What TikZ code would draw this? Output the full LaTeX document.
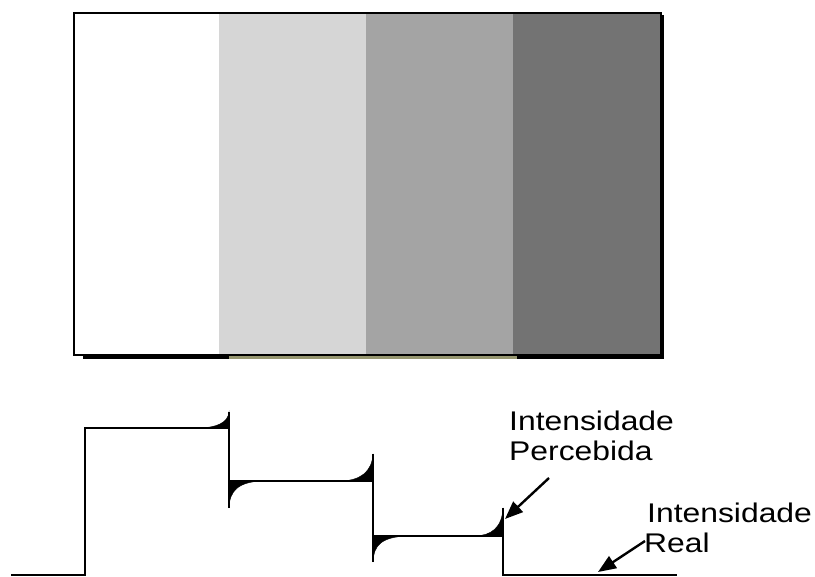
\documentclass[tikz,border=0pt]{standalone}
\usepackage{fontspec}
\setmainfont{Liberation Sans}
\usetikzlibrary{arrows.meta}
\definecolor{bandA}{RGB}{255,255,255}
\definecolor{bandB}{RGB}{214,214,214}
\definecolor{bandC}{RGB}{164,164,164}
\definecolor{bandD}{RGB}{115,115,115}
\definecolor{shadowtint}{RGB}{150,150,112}
\tikzset{
  band/.style={draw=none},
  frameline/.style={line width=1.8pt, black},
  stair/.style={line width=2.4pt, black, line join=miter},
  bump/.style={fill=black, draw=black, line width=0.4pt},
  label/.style={inner sep=0pt, anchor=base west, font=\fontsize{27pt}{30pt}\selectfont},
  pointer/.style={line width=2.4pt, -{Triangle[length=18pt,width=14pt]}},
}
\newcommand{\wide}[1]{\scalebox{1.18}[1]{#1}}
\begin{document}
\begin{tikzpicture}[x=1pt, y={(0,-1pt)}]
  \useasboundingbox (0,0) rectangle (815,577);

  % four grey bands
  \fill[bandA] (74,13) rectangle (219,355);
  \fill[bandB] (219,13) rectangle (366,355);
  \fill[bandC] (366,13) rectangle (513,355);
  \fill[bandD] (513,13) rectangle (661,355);

  % frame and its drop shadow
  \draw[line width=3pt, black] (83,358) -- (229,358);
  \draw[line width=3pt, shadowtint] (229,358) -- (517,358);
  \draw[line width=3pt, black] (517,358) -- (662.5,358) -- (662.5,15);
  \draw[frameline] (74,13) rectangle (661,355);

  % actual intensity profile
  \draw[stair] (11,575) -- (85,575) -- (85,428) -- (229,428) -- (229,481)
    -- (373,481) -- (373,536) -- (503,536) -- (503,575) -- (677,575);

  % perceived overshoots and undershoots (Mach bands)
  \filldraw[bump] (200,428) .. controls (216,427.5) and (228,423) .. (229,412) -- (229,428) -- cycle;
  \filldraw[bump] (229,508) .. controls (229.5,491) and (238,482) .. (262,481) -- (229,481) -- cycle;
  \filldraw[bump] (341,481) .. controls (360,480.5) and (372,472) .. (373,454) -- (373,481) -- cycle;
  \filldraw[bump] (373,562) .. controls (373.5,545) and (382,537) .. (407,536) -- (373,536) -- cycle;
  \filldraw[bump] (475,536) .. controls (491,535.5) and (502,528) .. (503,508) -- (503,536) -- cycle;
  \draw[line width=2.4pt] (229,412) -- (229,508);
  \draw[line width=2.4pt] (373,454) -- (373,562);
  \draw[line width=2.4pt] (503,508) -- (503,536);

  % labels
  \node[label] (perc1) at (509,431) {\wide{Intensidade}};
  \node[label] (perc2) at (509,461) {\wide{Percebida}};
  \node[label] (real1) at (647,523) {\wide{Intensidade}};
  \node[label] (real2) at (644,553) {\wide{Real}};

  % pointers from the labels to the curves
  \coordinate (pTail) at (549,478);
  \coordinate (pTip) at (505,519);
  \coordinate (rTail) at (645,541);
  \coordinate (rTip) at (598,572);
  \draw[pointer] (pTail) -- (pTip);
  \draw[pointer] (rTail) -- (rTip);
\end{tikzpicture}
\end{document}
